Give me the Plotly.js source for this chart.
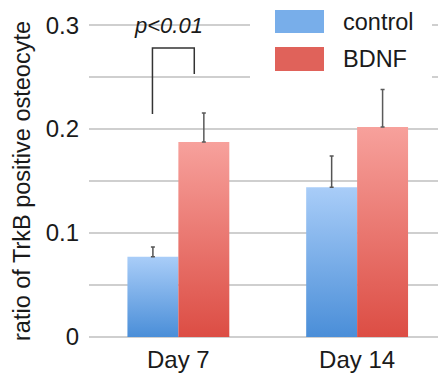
<!DOCTYPE html>
<html><head><meta charset="utf-8">
<script src="https://cdn.plot.ly/plotly-3.0.1.min.js"></script>
<style>html,body{margin:0;padding:0;background:#fff}#chart{width:438px;height:373px}</style>
</head><body><div id="chart"></div>
<script>
var categories = ['Day 7', 'Day 14'];
var controlValues = [0.077, 0.144];
var controlErrors = [0.0095, 0.030];
var bdnfValues = [0.1875, 0.202];
var bdnfErrors = [0.028, 0.036];
var seriesNames = ['control', 'BDNF'];
var yTicks = [0, 0.05, 0.1, 0.15, 0.2, 0.25, 0.3];
var yTickLabels = ['0', '', '0.1', '', '0.2', '', '0.3'];
var sigLabel = 'p<0.01';
var bracketX = [-0.145, 0.089];
var bracketY = [0.2144, 0.278, 0.253];

var font = '"Liberation Sans", Arial, Helvetica, sans-serif';

var traces = [
  {type:'bar', x:[0,1], y:controlValues, name:seriesNames[0], marker:{color:'#78aeea'},
   error_y:{type:'data', array:controlErrors, symmetric:false, arrayminus:[0,0], color:'#555', thickness:1.5, width:2}},
  {type:'bar', x:[0,1], y:bdnfValues, name:seriesNames[1], marker:{color:'#e0625a'},
   error_y:{type:'data', array:bdnfErrors, symmetric:false, arrayminus:[0,0], color:'#5a5a5a', thickness:1.5, width:2}}
];

var px = function(p){return (p-89)/349;};
var py = function(p){return (340-p)/318;};

var layout = {
  width:438, height:373,
  margin:{l:89, r:0, t:22, b:33},
  paper_bgcolor:'#fff', plot_bgcolor:'#fff',
  showlegend:false,
  barmode:'group', bargap:0.43, bargroupgap:0,
  font:{family:font, color:'#222'},
  xaxis:{range:[-0.5,1.4525], tickvals:[0,1], ticktext:categories, showgrid:false, zeroline:false,
         showline:false, ticks:'', tickfont:{size:24, color:'#1a1a1a'}, ticklabelstandoff:3},
  yaxis:{range:[-0.003,0.303], tickvals:yTicks, ticktext:yTickLabels,
         showgrid:true, gridcolor:'#cfcfcf', gridwidth:1.5, zeroline:false, showline:false, ticks:'',
         tickfont:{size:24, color:'#1a1a1a'}, ticklabelstandoff:9,
         title:{text:'ratio of TrkB positive osteocyte', font:{size:23.5, color:'#1a1a1a'}, standoff:8}},
  shapes:[
    {type:'rect', xref:'paper', yref:'paper', x0:px(250), x1:px(432), y0:py(86), y1:py(-5), fillcolor:'#fff', line:{width:0}, layer:'above'},
    {type:'rect', xref:'paper', yref:'paper', x0:px(275), x1:px(324), y0:py(33), y1:py(10), fillcolor:'#78aeea', line:{width:0}, layer:'above'},
    {type:'rect', xref:'paper', yref:'paper', x0:px(275), x1:px(324), y0:py(71), y1:py(47), fillcolor:'#e0625a', line:{width:0}, layer:'above'},
    {type:'path', xref:'x', yref:'y', layer:'above',
     path:'M '+bracketX[0]+' '+bracketY[0]+' L '+bracketX[0]+' '+bracketY[1]+' L '+bracketX[1]+' '+bracketY[1]+' L '+bracketX[1]+' '+bracketY[2],
     line:{color:'#333', width:1.5}}
  ],
  annotations:[
    {xref:'paper', yref:'paper', x:px(341), y:py(22), xanchor:'left', yanchor:'middle', text:seriesNames[0], showarrow:false, font:{size:23.5, color:'#1a1a1a'}},
    {xref:'paper', yref:'paper', x:px(341), y:py(59), xanchor:'left', yanchor:'middle', text:seriesNames[1], showarrow:false, font:{size:23.5, color:'#1a1a1a'}},
    {xref:'x', yref:'y', x:-0.056, y:0.3, xanchor:'center', yanchor:'middle', text:'<i>'+sigLabel+'</i>', showarrow:false, font:{size:22, color:'#1a1a1a'}}
  ]
};

Plotly.newPlot('chart', traces, layout, {displayModeBar:false, staticPlot:true}).then(function(gd){
  var svg = gd.querySelector('.main-svg');
  var defs = svg.querySelector('defs');
  var ns = 'http://www.w3.org/2000/svg';
  function grad(id, top, bottom){
    var g = document.createElementNS(ns,'linearGradient');
    g.setAttribute('id', id); g.setAttribute('x1','0'); g.setAttribute('y1','0'); g.setAttribute('x2','0'); g.setAttribute('y2','1');
    [[0,top],[1,bottom]].forEach(function(s){
      var st = document.createElementNS(ns,'stop');
      st.setAttribute('offset', s[0]); st.setAttribute('stop-color', s[1]); g.appendChild(st);
    });
    defs.appendChild(g);
  }
  grad('gBlue', '#a9cdf8', '#4a8ed8');
  grad('gRed', '#f7a19c', '#dc4d44');
  var traceGroups = gd.querySelectorAll('.barlayer .trace');
  var ids = ['gBlue','gRed'];
  traceGroups.forEach(function(t, i){
    t.querySelectorAll('.point path').forEach(function(p){ p.style.fill = 'url(#'+ids[i]+')'; });
  });
});
</script>
</body></html>
